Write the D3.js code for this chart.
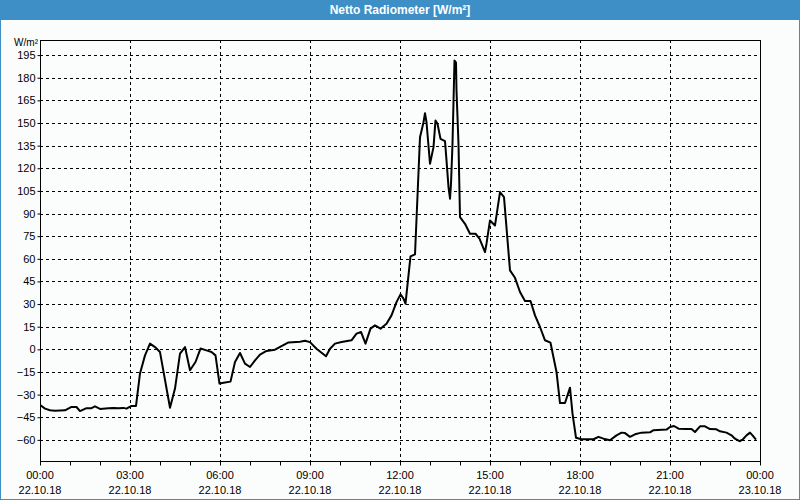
<!DOCTYPE html>
<html><head><meta charset="utf-8">
<script src="https://cdn.jsdelivr.net/npm/d3@7"></script>
<style>
html,body{margin:0;padding:0;background:#fff;}
svg{display:block;}
text{font-family:"Liberation Sans",Arial,sans-serif;}
</style></head>
<body>
<svg id="c" width="800" height="500"></svg>
<script>
const title = "Netto Radiometer [W/m²]";
const unitLabel = "W/m²";
// minutes since 22.10.18 00:00
const minutes = [1,10,20,30,50,63,73,80,93,103,110,120,137,147,157,167,173,183,192,200,210,220,230,240,260,270,280,290,300,311,321,333,343,351,359,370,381,390,400,410,420,430,440,453,470,483,497,520,530,540,553,572,580,590,603,623,633,642,651,661,670,681,693,703,713,721,727,731,741,750,760,767,770,773,780,787,791,795,801,810,813,817,820,822,825,829,832,833,837,840,850,860,871,879,890,893,900,910,920,928,940,950,960,970,981,990,1000,1010,1021,1033,1040,1050,1060,1065,1072,1083,1107,1117,1127,1140,1153,1163,1170,1180,1190,1203,1220,1227,1253,1260,1268,1277,1293,1303,1310,1320,1330,1340,1353,1360,1373,1383,1390,1399,1405,1413,1420,1425,1432];
const values = [-37,-39.3,-40.4,-40.7,-40.4,-38.2,-38.2,-40.9,-39,-39,-37.8,-39.5,-39,-38.8,-39,-38.8,-39.3,-37.5,-37.5,-16,-4,3.8,1.5,-1.8,-38.7,-26,-2.9,1.5,-13.9,-8.4,0.5,-0.7,-1.8,-4,-22.7,-22,-21.4,-8.4,-2.4,-9.5,-11.7,-7.3,-3.5,-1.1,-0.2,2.2,4.6,5.1,5.7,4.8,0.4,-4.6,0.4,3.8,4.8,6,10.4,11.5,3.8,13.7,15.9,13.7,17,22.5,31.3,36.4,33.6,30.3,61.6,62.9,140.6,150.5,156.5,150.5,123,134,151.7,149.5,139.5,138,125.2,107.5,99.8,109.7,136.2,191.4,190,171.5,136,87.6,83.2,76.6,76.6,73.3,64.4,70,85.4,82.1,104.2,100.9,52.3,47.4,38,32,32,22.5,14.8,6,4.4,-15,-35.6,-35.6,-25.4,-42.6,-58.6,-59.6,-59.6,-58,-59.2,-60.3,-57,-55.2,-55.5,-58,-56.3,-55.2,-55,-53.6,-53.2,-51.5,-50.8,-52.6,-52.8,-52.8,-54.8,-51,-51,-52.8,-53,-54.3,-55.2,-57,-59.2,-60.9,-59.9,-57,-55.2,-57,-59.9];
const yTicks = [-60,-45,-30,-15,0,15,30,45,60,75,90,105,120,135,150,165,180,195];
const xLabelTimes = ["00:00","03:00","06:00","09:00","12:00","15:00","18:00","21:00","00:00"];
const xLabelDates = ["22.10.18","22.10.18","22.10.18","22.10.18","22.10.18","22.10.18","22.10.18","22.10.18","23.10.18"];

const svg = d3.select("#c");
const W = 800, H = 500;
const L = 40, R = 760, T = 40, B = 461;

// background & frame
svg.append("rect").attr("x",0).attr("y",0).attr("width",W).attr("height",H).attr("fill","#3d8fc5");
svg.append("rect").attr("x",1).attr("y",20).attr("width",W-2).attr("height",H-21).attr("fill","#fbfdfc");
svg.append("text").attr("x",W/2).attr("y",14).attr("text-anchor","middle")
  .attr("fill","#fff").attr("font-weight","bold").attr("font-size","12px").text(title);

const x = d3.scaleLinear().domain([0,1440]).range([L,R]);
const y = d3.scaleLinear().domain([-74,205]).range([B,T]);

// horizontal grid
svg.append("g").selectAll("line").data(yTicks).join("line")
  .attr("x1",L).attr("x2",R).attr("y1",d=>Math.round(y(d))+0.5).attr("y2",d=>Math.round(y(d))+0.5)
  .attr("stroke","#000").attr("stroke-width",1).attr("stroke-dasharray","3,3");
// vertical grid
const vg = d3.range(180,1440,180);
svg.append("g").selectAll("line").data(vg).join("line")
  .attr("y1",T).attr("y2",B).attr("x1",d=>Math.round(x(d))+0.5).attr("x2",d=>Math.round(x(d))+0.5)
  .attr("stroke","#000").attr("stroke-width",1).attr("stroke-dasharray","3,3");

// y axis labels
const yAxis = d3.axisLeft(y).tickValues(yTicks).tickSize(3).tickPadding(2);
const gy = svg.append("g").attr("transform",`translate(${L+0.5},0)`).call(yAxis);
gy.select(".domain").remove();
gy.selectAll("text").attr("font-size","11px").attr("fill","#000").attr("font-family","Liberation Sans, Arial, sans-serif");
gy.selectAll(".tick line").attr("stroke","#000");
svg.append("text").attr("x",38).attr("y",46).attr("text-anchor","end").attr("font-size","10px").attr("fill","#000").text(unitLabel);

// x axis ticks every hour
const xAxis = d3.axisBottom(x).tickValues(d3.range(0,1441,60)).tickSize(4).tickFormat("");
const gx = svg.append("g").attr("transform",`translate(0,${B+0.5})`).call(xAxis);
gx.select(".domain").remove();
gx.selectAll(".tick line").attr("stroke","#000");

const labPos = d3.range(0,1441,180);
svg.append("g").selectAll("text").data(labPos).join("text")
  .attr("x",d=>x(d)).attr("y",479).attr("text-anchor","middle").attr("font-size","11px").attr("fill","#000")
  .text((d,i)=>xLabelTimes[i]);
svg.append("g").selectAll("text").data(labPos).join("text")
  .attr("x",d=>x(d)).attr("y",494).attr("text-anchor","middle").attr("font-size","11px").attr("fill","#000")
  .text((d,i)=>xLabelDates[i]);

// plot border
svg.append("rect").attr("x",L+0.5).attr("y",T+0.5).attr("width",R-L).attr("height",B-T)
  .attr("fill","none").attr("stroke","#000").attr("stroke-width",1);

// line
const line = d3.line().x((d,i)=>x(minutes[i])).y(d=>y(d));
svg.append("path").datum(values).attr("d",line).attr("fill","none")
  .attr("stroke","#000").attr("stroke-width",2).attr("stroke-linejoin","round");
</script>
</body></html>
